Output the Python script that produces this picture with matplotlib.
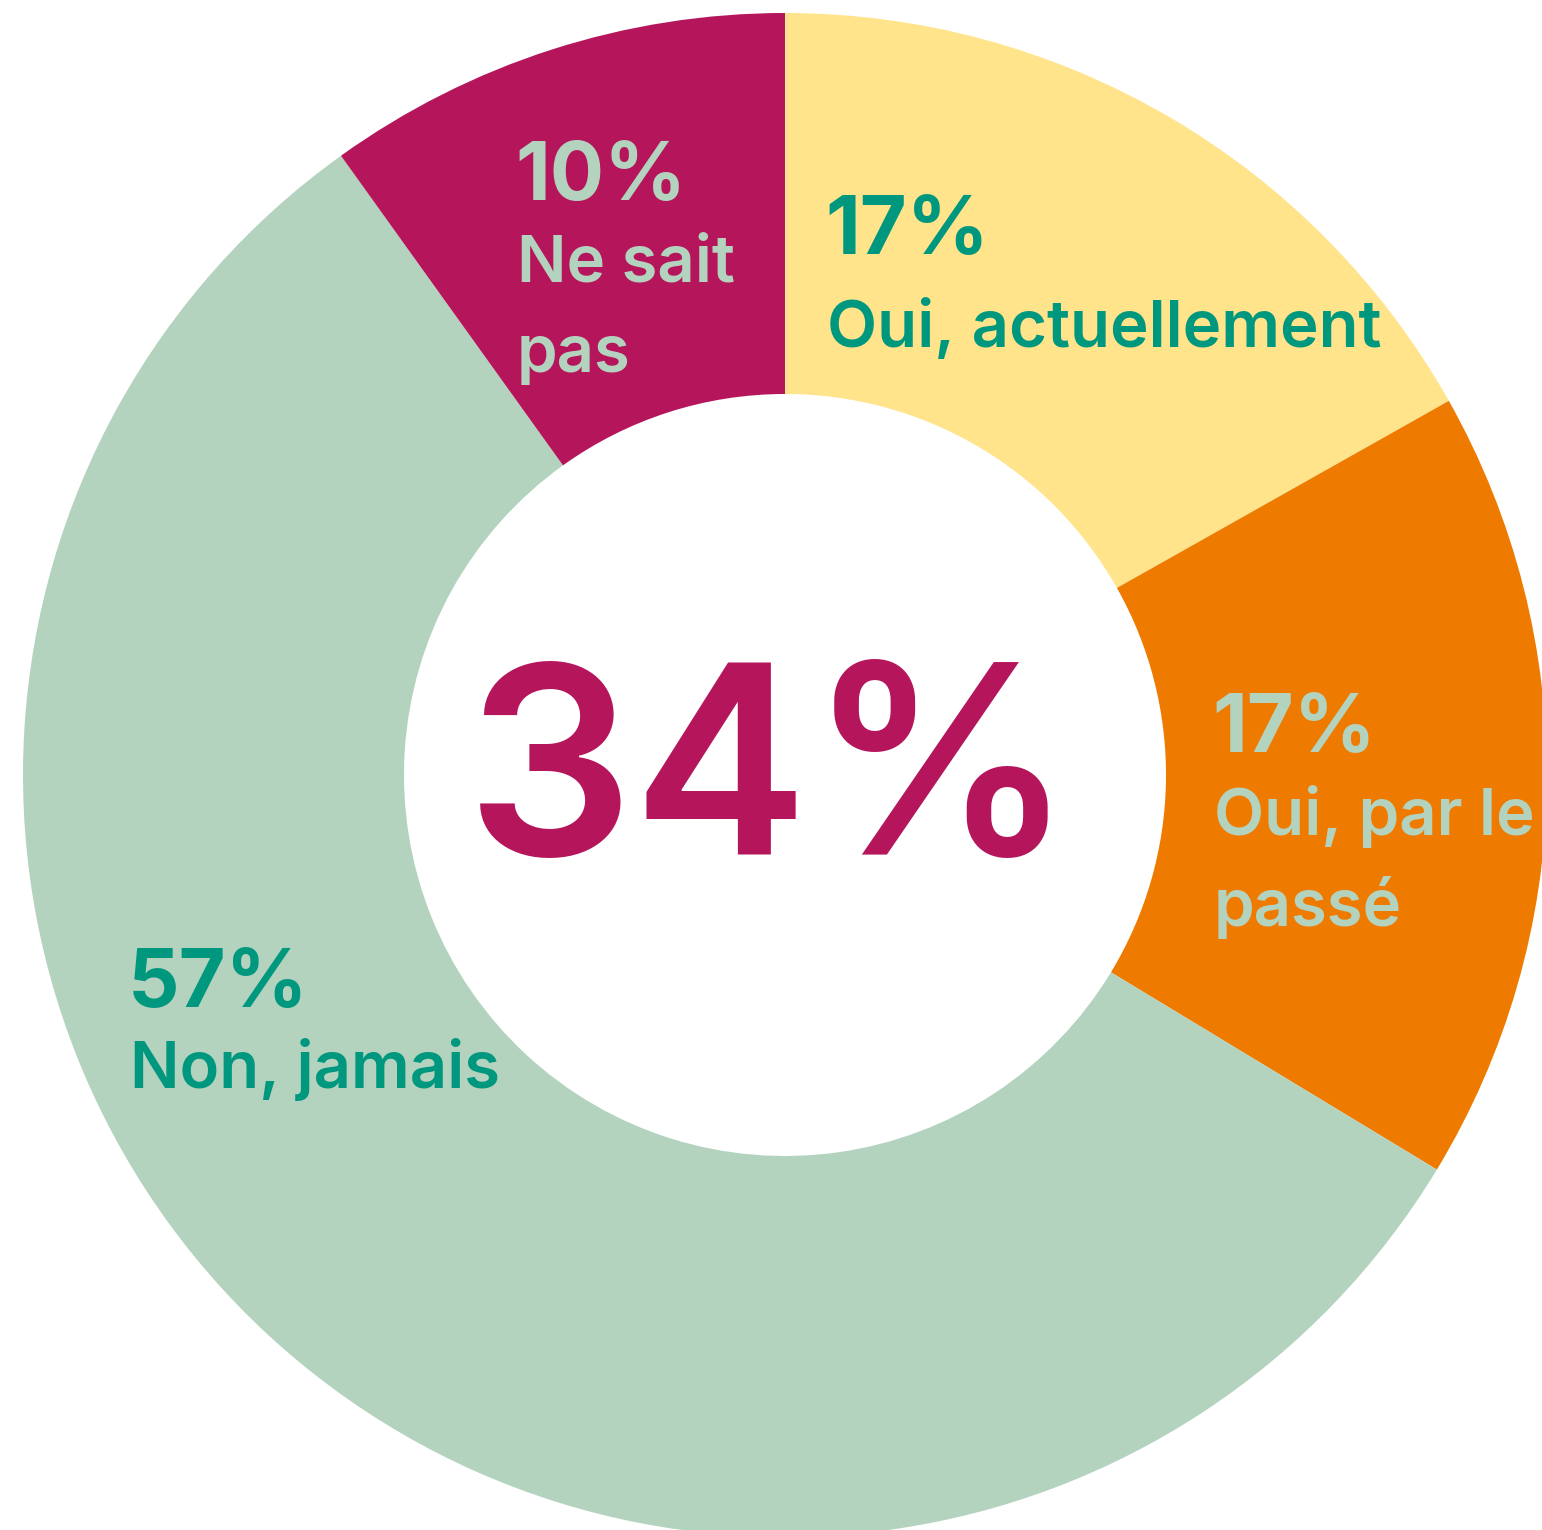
import matplotlib
matplotlib.use("Agg")
import matplotlib.pyplot as plt

categories = ["Oui, actuellement", "Oui, par le\npassé", "Non, jamais", "Ne sait\npas"]
values = [17, 17, 57, 10]
pct_labels = ["17%", "17%", "57%", "10%"]
colors = ["#FFE48C", "#EE7B00", "#B4D3BF", "#B5165B"]
text_colors = ["#00977F", "#B4D3BF", "#00977F", "#B4D3BF"]
center_value = "34%"

W, H = 1542, 1530
fig = plt.figure(figsize=(W / 100, H / 100), dpi=100)
ax = fig.add_axes([0, 0, 1, 1])

cx, cy, R = 785, 775, 762
ax.pie(values, colors=colors, startangle=-90, counterclock=True,
       center=(cx, cy), radius=R, wedgeprops=dict(width=381, linewidth=0),
       frame=True)
ax.set_xlim(0, W)
ax.set_ylim(H, 0)
ax.set_aspect("equal")
ax.axis("off")

fam = ["Inter", "DejaVu Sans"]
# label anchor positions (left x, baseline y of percentage, gap to first text line)
pos = [(825, 254, 93), (1212, 752, 83), (128, 1007, 81), (515, 200, 81)]
for (x, y, g), p, c, tc in zip(pos, pct_labels, categories, text_colors):
    ax.text(x, y, p, fontsize=58, fontweight="bold", color=tc, family=fam,
            ha="left", va="baseline")
    for i, line in enumerate(c.split("\n")):
        ax.text(x + 2, y + g + i * 91, line, fontsize=47, fontweight="semibold",
                color=tc, family=fam, ha="left", va="baseline")

ax.text(770, 855, center_value, fontsize=190, fontweight="semibold",
        color="#B5165B", family=fam, ha="center", va="baseline")

fig.savefig("out.png", dpi=100)
